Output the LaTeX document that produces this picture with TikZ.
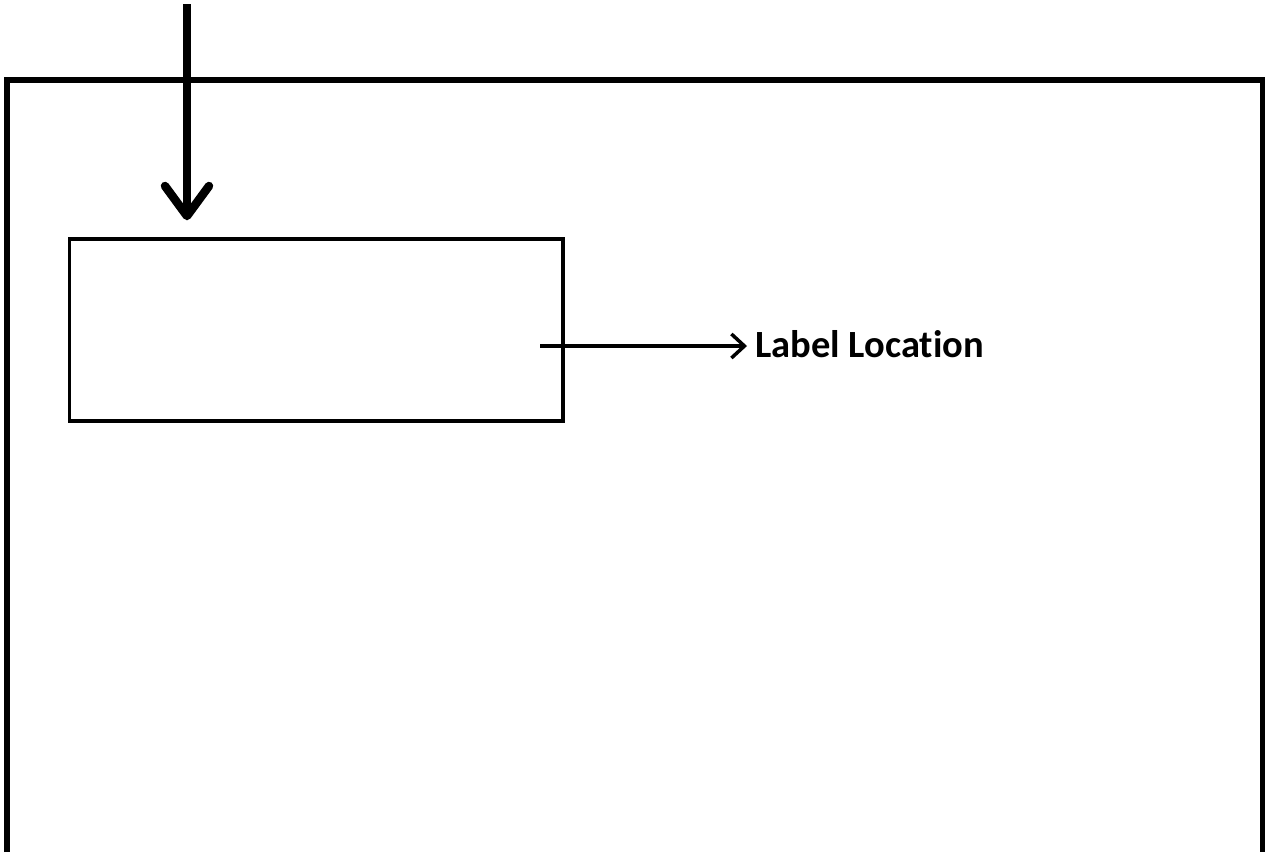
\documentclass[tikz,border=0pt]{standalone}
\usepackage{fontspec}
\setmainfont{Carlito}[Ligatures=NoCommon]
\usepackage{tikz}
\usetikzlibrary{arrows.meta}

\begin{document}
\begin{tikzpicture}[x=1pt,y=-1pt,
	box/.style={draw,line width=3.5pt,minimum width=493.5pt,minimum height=182pt,inner sep=0pt},
	lbl/.style={font=\fontsize{38.5}{46}\selectfont\bfseries,inner sep=0pt},
	thin arrow/.style={line width=3.5pt,-{Straight Barb[length=13pt,width=24pt]}},
	thick arrow/.style={line width=8.5pt,-{Straight Barb[length=30pt,width=44pt,round]}}]
	\useasboundingbox (0,0) rectangle (1265,852);
	% outer frame, open at the bottom
	\draw[line width=6pt] (6.5,852) -- (6.5,79.5) -- (1263,79.5) -- (1263,852);
	\node[box] (box) at (316.25,330) {};
	\node[lbl,anchor=base west] (label) at (755,357) {Label Location};
	\coordinate (top) at (187,4);
	\coordinate (start) at (540,346);
	\draw[thick arrow] (top) -- (top |- box.north) [shorten >=17pt];
	\draw[thin arrow] (start) -- ([xshift=-8pt]start -| label.west);
\end{tikzpicture}
\end{document}
